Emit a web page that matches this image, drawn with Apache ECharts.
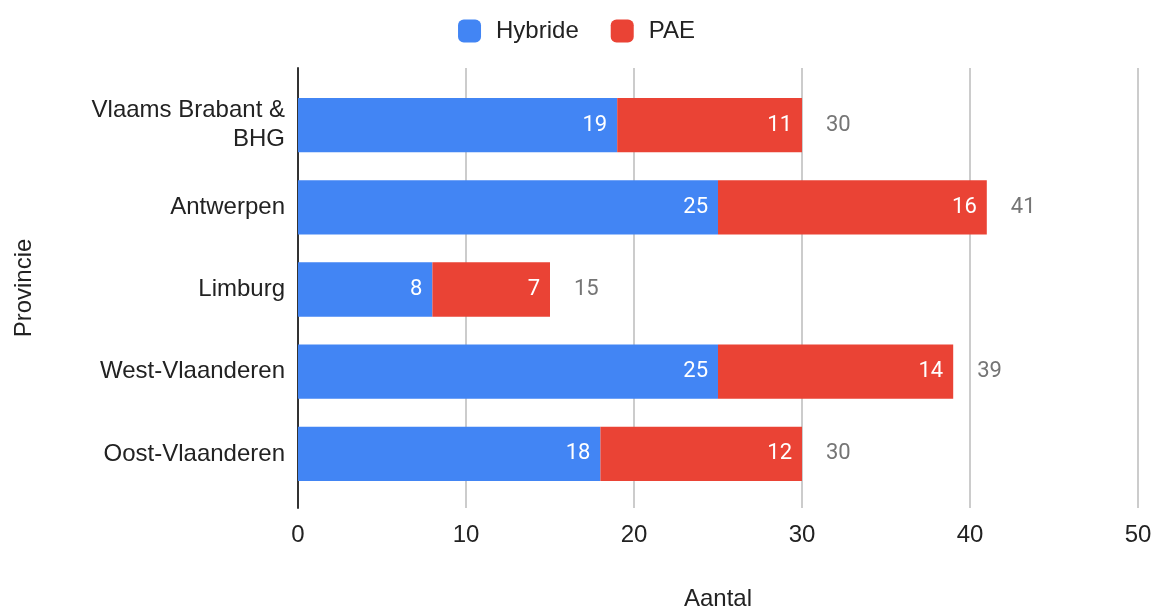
<!DOCTYPE html>
<html><head><meta charset="utf-8">
<script src="https://cdn.jsdelivr.net/npm/echarts@6/dist/echarts.min.js"></script>
<style>html,body{margin:0;padding:0;background:#fff}#c{width:1153px;height:607px}</style>
</head><body><div id="c"></div>
<script>
const categories = ['Vlaams Brabant &\nBHG', 'Antwerpen', 'Limburg', 'West-Vlaanderen', 'Oost-Vlaanderen'];
const hybride = [19, 25, 8, 25, 18];
const pae = [11, 16, 7, 14, 12];
const totals = hybride.map((v, i) => v + pae[i]);
const xTicks = [0, 10, 20, 30, 40, 50];

const FONT = '"Liberation Sans", Arial, sans-serif';
const LFONT = 'Roboto, Arial, sans-serif';
const chart = echarts.init(document.getElementById('c'), null, {renderer: 'canvas'});
chart.setOption({
  animation: false,
  textStyle: {fontFamily: FONT},
  legend: {
    top: 14, left: 'center', itemWidth: 23, itemHeight: 23, itemGap: 32,
    icon: 'roundRect',
    data: ['Hybride', 'PAE'],
    textStyle: {fontSize: 24, color: '#222', fontFamily: FONT, padding: [0, 0, 0, 10]}
  },
  grid: [
    {left: 298, right: 15, top: 84, bottom: 112, containLabel: false, outerBoundsMode: 'none'},
    {left: 298, right: 15, top: 68, bottom: 99, containLabel: false, outerBoundsMode: 'none'}
  ],
  xAxis: [
    {gridIndex: 0, type: 'value', min: xTicks[0], max: xTicks[xTicks.length - 1], interval: 10,
     axisLine: {show: false}, axisTick: {show: false}, axisLabel: {show: false}, splitLine: {show: false}},
    {gridIndex: 1, type: 'value', min: xTicks[0], max: xTicks[xTicks.length - 1], interval: 10,
     name: 'Aantal', nameLocation: 'middle', nameGap: 79,
     nameTextStyle: {fontSize: 24, color: '#222', fontFamily: FONT},
     axisLine: {show: false}, axisTick: {show: false},
     axisLabel: {fontSize: 24, color: '#222', margin: 15, fontFamily: FONT},
     splitLine: {lineStyle: {color: '#cccccc', width: 2}}}
  ],
  yAxis: [
    {gridIndex: 0, type: 'category', data: categories, inverse: true,
     axisLine: {show: false}, axisTick: {show: false},
     axisLabel: {fontSize: 24, color: '#222', margin: 13, lineHeight: 29, fontFamily: FONT, align: 'right'},
     splitLine: {show: false}},
    {gridIndex: 1, type: 'category', data: categories, inverse: true,
     name: 'Provincie', nameLocation: 'middle', nameGap: 262, nameRotate: 90,
     nameTextStyle: {fontSize: 24, color: '#222', fontFamily: FONT},
     axisLine: {show: true, lineStyle: {color: '#333', width: 2}}, axisTick: {show: false},
     axisLabel: {show: false}, splitLine: {show: false}}
  ],
  series: [
    {name: 'Hybride', type: 'bar', stack: 'a', data: hybride, xAxisIndex: 0, yAxisIndex: 0,
     barCategoryGap: '34%', itemStyle: {color: '#4285F4'},
     label: {show: true, position: 'insideRight', color: '#fff', fontSize: 22, distance: 10, fontFamily: LFONT}},
    {name: 'PAE', type: 'bar', stack: 'a', data: pae, xAxisIndex: 0, yAxisIndex: 0,
     barCategoryGap: '34%', itemStyle: {color: '#EA4335'},
     label: {show: true, position: 'insideRight', color: '#fff', fontSize: 22, distance: 10, fontFamily: LFONT}},
    {name: 'Totaal', type: 'bar', data: totals, xAxisIndex: 0, yAxisIndex: 0,
     barGap: '-100%', barCategoryGap: '34%', itemStyle: {color: 'rgba(0,0,0,0)'}, silent: true,
     label: {show: true, position: 'right', color: '#757575', fontSize: 22, distance: 24, fontFamily: LFONT}}
  ]
});
</script></body></html>
